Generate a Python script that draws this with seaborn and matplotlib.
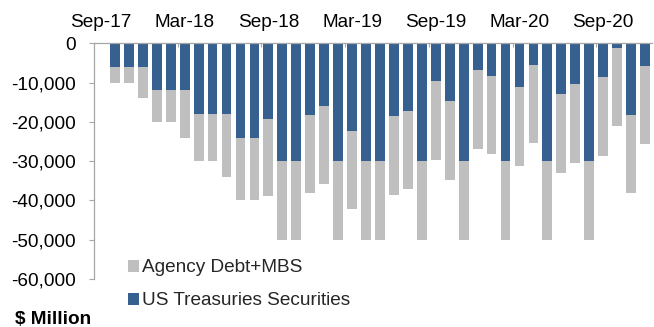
import matplotlib
matplotlib.use("Agg")
import matplotlib.pyplot as plt
import seaborn as sns
import pandas as pd
from matplotlib.ticker import FuncFormatter
from matplotlib.patches import Patch

# ---- data (US$ million, monthly reductions) ----
months = ["Sep-17", "Oct-17", "Nov-17", "Dec-17", "Jan-18", "Feb-18", "Mar-18", "Apr-18",
          "May-18", "Jun-18", "Jul-18", "Aug-18", "Sep-18", "Oct-18", "Nov-18", "Dec-18",
          "Jan-19", "Feb-19", "Mar-19", "Apr-19", "May-19", "Jun-19", "Jul-19", "Aug-19",
          "Sep-19", "Oct-19", "Nov-19", "Dec-19", "Jan-20", "Feb-20", "Mar-20", "Apr-20",
          "May-20", "Jun-20", "Jul-20", "Aug-20", "Sep-20", "Oct-20", "Nov-20", "Dec-20"]
treasuries = [0, 6000, 6000, 6000, 12000, 12000, 12000, 18000, 18000, 18000, 24000, 24000,
              19200, 30000, 30000, 18200, 15900, 30000, 22300, 30000, 30000, 18500, 17200,
              30000, 9700, 14700, 30000, 6900, 8200, 30000, 11200, 5500, 30000, 13000,
              10400, 30000, 8700, 1100, 18200, 5700]
agency = [0, 4000, 4000, 8000, 8000, 8000, 12000, 12000, 12000, 16000, 16000, 16000,
          19600, 20000, 20000, 20000, 20000, 20000, 20000, 20000, 20000, 20000, 20000,
          20000, 20000, 20000, 20000, 20000, 20000, 20000, 20000, 20000, 20000, 20000,
          20000, 20000, 20000, 20000, 20000, 20000]
tick_labels = ["Sep-17", "Mar-18", "Sep-18", "Mar-19", "Sep-19", "Mar-20", "Sep-20"]
series_names = ["Agency Debt+MBS", "US Treasuries Securities"]

BLUE = "#35608F"
GRAY = "#BFBFBF"
AXIS = "#A6A6A6"
FS = 13.7

sns.set_theme(style="white")
plt.rcParams['font.family'] = ['Liberation Sans', 'DejaVu Sans']

df = pd.DataFrame({
    "month": months,
    "treasuries": [-t for t in treasuries],
    "total": [-(t + a) for t, a in zip(treasuries, agency)],
})

fig = plt.figure(figsize=(6.54, 3.27), dpi=100)
W, H = 654, 327
ax = fig.add_axes([94 / W, 1 - 279 / H, (652 - 94) / W, (279 - 43.3) / H])

sns.barplot(data=df, x="month", y="total", color=GRAY, saturation=1, width=0.7,
            ax=ax, linewidth=0)
sns.barplot(data=df, x="month", y="treasuries", color=BLUE, saturation=1, width=0.7,
            ax=ax, linewidth=0)

ax.set_xlim(-0.5, len(months) - 0.5)
ax.set_ylim(-60000, 0)
ax.set_xlabel("")
ax.set_ylabel("")

# x axis on top
ax.xaxis.tick_top()
pos = [months.index(m) for m in tick_labels]
ax.set_xticks(pos)
ax.set_xticklabels(tick_labels, fontsize=FS, color="#000000")
ax.set_xticks([p - 0.5 for p in pos[1:]], minor=True)
ax.tick_params(axis="x", which="major", length=0, pad=8.5, top=True, bottom=False)
ax.tick_params(axis="x", which="minor", length=3, width=0.8, direction="in",
               color=AXIS, top=True, bottom=False)

ax.set_yticks(range(-60000, 1, 10000))
ax.yaxis.set_major_formatter(FuncFormatter(lambda v, p: f"{int(v):,}"))
ax.tick_params(axis="y", which="major", length=3.6, width=0.8, color=AXIS,
               direction="out", pad=9.4, labelsize=FS, left=True, labelcolor="#000000")

for s in ["right", "bottom"]:
    ax.spines[s].set_visible(False)
for s in ["left", "top"]:
    ax.spines[s].set_visible(True)
    ax.spines[s].set_color(AXIS)
    ax.spines[s].set_linewidth(0.9)

handles = [Patch(facecolor=GRAY, edgecolor="none"), Patch(facecolor=BLUE, edgecolor="none")]
fig.legend(handles, series_names, loc="upper left",
           bbox_to_anchor=(128.3 / W, 1 - 259.5 / H), frameon=False, borderpad=0,
           borderaxespad=0, handlelength=0.58, handleheight=0.58, handletextpad=0.15,
           labelspacing=0.84, fontsize=FS)

fig.text(15 / W, (H - 323.5) / H, "$ Million", fontsize=FS, fontweight="bold",
         ha="left", va="baseline", color="#000000")

fig.savefig("out.png", dpi=100)
